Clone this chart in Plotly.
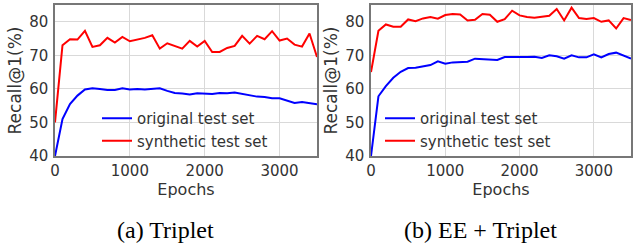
import plotly.graph_objects as go

epochs = list(range(0, 3600, 100))

triplet_original = [40, 51, 55.5, 58, 59.8, 60.2, 60, 59.7, 59.7, 60.2, 59.8, 60, 59.8, 59.9,
                    60.2, 59.4, 58.8, 58.6, 58.3, 58.7, 58.6, 58.5, 58.8, 58.7, 58.9, 58.5,
                    58.1, 57.7, 57.6, 57.2, 57.2, 56.5, 55.8, 56.1, 55.7, 55.4]
triplet_synthetic = [50, 73, 74.8, 74.7, 77.3, 72.5, 73, 75.2, 73.8, 75.5, 74.2, 74.7, 75.2, 76,
                     72, 73.6, 72.9, 72, 74.3, 72.6, 74.3, 71, 71, 72.2, 72.8, 75.8, 73.5,
                     75.8, 74.8, 77.2, 74.4, 75, 73.2, 72.6, 76.5, 69.5]
ee_original = [40, 57.8, 60.8, 63.3, 65.1, 66.2, 66.3, 66.8, 67.1, 68.2, 67.5, 67.9, 68.1, 68.1,
               69, 68.8, 68.7, 68.6, 69.5, 69.4, 69.5, 69.5, 69.6, 69.2, 70, 69.7, 69, 70,
               69.4, 69.4, 70.3, 69.4, 70.4, 70.8, 70, 69]
ee_synthetic = [65, 77.3, 79.2, 78.5, 78.5, 80.7, 80.2, 81, 81.4, 80.9, 82, 82.3, 82.2, 80.4,
                80.6, 82.3, 82.1, 80, 80.8, 83.3, 81.9, 81.4, 81.2, 81.6, 81.8, 83.8, 80.4,
                84.2, 81.1, 80.8, 81.1, 80, 80.4, 78, 81.1, 80.5]

series_names = ["original test set", "synthetic test set"]
captions = ["(a) Triplet", "(b) EE + Triplet"]
x_title = "Epochs"
y_title = "Recall@1(%)"

BLUE = "#0000ff"
RED = "#ff0000"
TXT = "#333333"
FONT = "DejaVu Sans"

fig = go.Figure()
fig.add_trace(go.Scatter(x=epochs, y=triplet_original, mode="lines", name=series_names[0],
                         line=dict(color=BLUE, width=2), xaxis="x", yaxis="y", legend="legend"))
fig.add_trace(go.Scatter(x=epochs, y=triplet_synthetic, mode="lines", name=series_names[1],
                         line=dict(color=RED, width=2), xaxis="x", yaxis="y", legend="legend"))
fig.add_trace(go.Scatter(x=epochs, y=ee_original, mode="lines", name=series_names[0],
                         line=dict(color=BLUE, width=2), xaxis="x2", yaxis="y2", legend="legend2"))
fig.add_trace(go.Scatter(x=epochs, y=ee_synthetic, mode="lines", name=series_names[1],
                         line=dict(color=RED, width=2), xaxis="x2", yaxis="y2", legend="legend2"))

W, H = 640, 245
ydom = [(H - 156) / H, (H - 5) / H]

def xa(dom, anchor):
    return dict(domain=dom, anchor=anchor, range=[0, 3500], tickvals=[0, 1000, 2000, 3000],
                showgrid=True, gridcolor="#d9d9d9", gridwidth=1, zeroline=False, automargin=False,
                showline=True, linecolor="#777777", linewidth=1.5, mirror=True, ticks="",
                ticklabelstandoff=0,
                tickfont=dict(family=FONT, size=15, color=TXT),
                title=dict(text=x_title, font=dict(family=FONT, size=16, color=TXT), standoff=0))

def ya(dom, anchor):
    return dict(domain=dom, anchor=anchor, range=[40, 85], tickvals=[40, 50, 60, 70, 80],
                showgrid=True, gridcolor="#d9d9d9", gridwidth=1, zeroline=False, automargin=False,
                showline=True, linecolor="#777777", linewidth=1.5, mirror=True, ticks="",
                ticklabelstandoff=2,
                tickfont=dict(family=FONT, size=15, color=TXT),
                title=dict(text=y_title, font=dict(family=FONT, size=17, color=TXT), standoff=3))

leg_common = dict(bgcolor="rgba(0,0,0,0)", borderwidth=0, font=dict(family=FONT, size=15, color=TXT),
                  xanchor="left", yanchor="top", tracegroupgap=0, itemwidth=30)

fig.update_layout(
    width=W, height=H,
    margin=dict(l=0, r=0, t=0, b=0),
    paper_bgcolor="white", plot_bgcolor="white",
    xaxis=xa([55 / W, 317 / W], "y"),
    yaxis=ya(ydom, "x"),
    xaxis2=xa([371 / W, 631 / W], "y2"),
    yaxis2=ya(ydom, "x2"),
    legend=dict(x=97 / W, y=(H - 102) / H, **leg_common),
    legend2=dict(x=380 / W, y=(H - 102) / H, **leg_common),
    annotations=[
        dict(text=captions[0], x=165 / W, y=0, xref="paper", yref="paper",
             xanchor="center", yanchor="bottom",
             showarrow=False, font=dict(family="Liberation Serif", size=24, color="black")),
        dict(text=captions[1], x=480 / W, y=0, xref="paper", yref="paper",
             xanchor="center", yanchor="bottom",
             showarrow=False, font=dict(family="Liberation Serif", size=24, color="black")),
    ],
)

fig.write_html("out.html", config={"displayModeBar": False},
               post_script="document.body.style.margin='0';")
